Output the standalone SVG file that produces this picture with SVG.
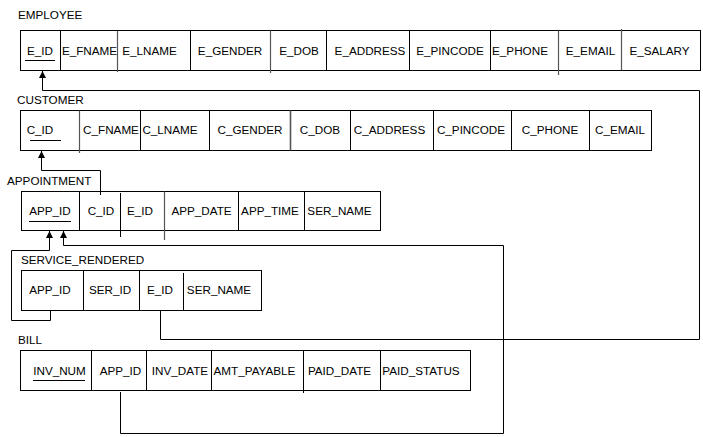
<svg xmlns="http://www.w3.org/2000/svg" width="703" height="437" viewBox="0 0 703 437">
<defs>
<style>
text{font-family:"Liberation Sans",Arial,sans-serif;font-size:11.7px;fill:#000}
.c{text-anchor:middle}
.t{fill:#fff;stroke:#000;stroke-width:1}
.d{stroke:#000;stroke-width:1;fill:none}
.g{stroke:#555;stroke-width:1.2;fill:none}
.u{stroke:#000;stroke-width:1}
.w{stroke:#000;stroke-width:1;fill:none}
</style>
<marker id="ah" viewBox="0 0 8 8" refX="7" refY="4" markerWidth="8" markerHeight="8" markerUnits="userSpaceOnUse" orient="auto">
<path d="M0,0.5 L7,4 L0,7.5 Z" fill="#000"/>
</marker>
</defs>
<rect width="703" height="437" fill="#fff"/>

<g id="employee">
<text x="18" y="19">EMPLOYEE</text>
<rect class="t" x="20.5" y="30.5" width="680" height="40"/>
<line class="d" x1="60.5" y1="30.5" x2="60.5" y2="70.5"/>
<line class="g" x1="117.5" y1="31" x2="117.5" y2="72"/>
<line class="d" x1="190.5" y1="30.5" x2="190.5" y2="70.5"/>
<line class="g" x1="270.5" y1="30.5" x2="270.5" y2="73"/>
<line class="d" x1="326.5" y1="30.5" x2="326.5" y2="70.5"/>
<line class="d" x1="409.5" y1="30.5" x2="409.5" y2="70.5"/>
<line class="d" x1="490.5" y1="30.5" x2="490.5" y2="70.5"/>
<line class="g" x1="558.5" y1="30.5" x2="558.5" y2="75"/>
<line class="g" x1="621.5" y1="29" x2="621.5" y2="70.5"/>
<line class="u" x1="25" y1="60.5" x2="55" y2="60.5"/>
<text class="c" x="40" y="54.5">E_ID</text>
<text class="c" x="89.5" y="54.5">E_FNAME</text>
<text class="c" x="149.5" y="54.5">E_LNAME</text>
<text class="c" x="230" y="54.5">E_GENDER</text>
<text class="c" x="299" y="54.5">E_DOB</text>
<text class="c" x="370" y="54.5">E_ADDRESS</text>
<text class="c" x="450" y="54.5">E_PINCODE</text>
<text class="c" x="520" y="54.5">E_PHONE</text>
<text class="c" x="590.5" y="54.5">E_EMAIL</text>
<text class="c" x="659.5" y="54.5">E_SALARY</text>
</g>

<g id="customer">
<text x="17" y="104">CUSTOMER</text>
<rect class="t" x="20.5" y="110.5" width="631" height="40"/>
<line class="g" x1="79.5" y1="110.5" x2="79.5" y2="153"/>
<line class="d" x1="140.5" y1="110.5" x2="140.5" y2="150.5"/>
<line class="d" x1="209.5" y1="110.5" x2="209.5" y2="150.5"/>
<line class="g" x1="290.5" y1="110.5" x2="290.5" y2="150.5" style="stroke-width:1.6"/>
<line class="d" x1="350.5" y1="110.5" x2="350.5" y2="150.5"/>
<line class="d" x1="433.5" y1="110.5" x2="433.5" y2="150.5"/>
<line class="d" x1="511.5" y1="110.5" x2="511.5" y2="150.5"/>
<line class="d" x1="589.5" y1="110.5" x2="589.5" y2="150.5"/>
<line class="u" x1="30" y1="140.5" x2="61" y2="140.5"/>
<text class="c" x="40" y="134">C_ID</text>
<text class="c" x="111" y="134">C_FNAME</text>
<text class="c" x="170" y="134">C_LNAME</text>
<text class="c" x="250" y="134">C_GENDER</text>
<text class="c" x="320" y="134">C_DOB</text>
<text class="c" x="389.5" y="134">C_ADDRESS</text>
<text class="c" x="471" y="134">C_PINCODE</text>
<text class="c" x="550" y="134">C_PHONE</text>
<text class="c" x="620" y="134">C_EMAIL</text>
</g>

<g id="appointment">
<text x="7" y="185">APPOINTMENT</text>
<rect class="t" x="21.5" y="191.5" width="359" height="39"/>
<line class="d" x1="79.5" y1="191.5" x2="79.5" y2="230.5"/>
<line class="d" x1="120.5" y1="193" x2="120.5" y2="237"/>
<line class="g" x1="164.5" y1="191.5" x2="164.5" y2="240"/>
<line class="d" x1="238.5" y1="191.5" x2="238.5" y2="230.5"/>
<line class="d" x1="304.5" y1="191.5" x2="304.5" y2="230.5"/>
<line class="u" x1="29" y1="221.5" x2="71" y2="221.5"/>
<text class="c" x="50" y="215">APP_ID</text>
<text class="c" x="101" y="215">C_ID</text>
<text class="c" x="140" y="215">E_ID</text>
<text class="c" x="201.5" y="215">APP_DATE</text>
<text class="c" x="270" y="215">APP_TIME</text>
<text class="c" x="339.5" y="215">SER_NAME</text>
</g>

<g id="service_rendered">
<text x="21" y="264">SERVICE_RENDERED</text>
<rect class="t" x="21.5" y="270.5" width="240" height="40"/>
<line class="d" x1="83.5" y1="270.5" x2="83.5" y2="310.5"/>
<line class="d" x1="139.5" y1="270.5" x2="139.5" y2="310.5"/>
<line class="d" x1="183.5" y1="273" x2="183.5" y2="310.5"/>
<text class="c" x="50" y="294">APP_ID</text>
<text class="c" x="110" y="294">SER_ID</text>
<text class="c" x="160" y="294">E_ID</text>
<text class="c" x="219" y="294">SER_NAME</text>
</g>

<g id="bill">
<text x="18" y="344">BILL</text>
<rect class="t" x="20.5" y="350.5" width="450" height="40"/>
<line class="d" x1="91.5" y1="350.5" x2="91.5" y2="390.5"/>
<line class="d" x1="146.5" y1="350.5" x2="146.5" y2="390.5"/>
<line class="d" x1="211.5" y1="350.5" x2="211.5" y2="390.5"/>
<line class="d" x1="303.5" y1="351" x2="303.5" y2="393"/>
<line class="d" x1="380.5" y1="350.5" x2="380.5" y2="390.5"/>
<line class="u" x1="33" y1="380.5" x2="85" y2="380.5"/>
<text class="c" x="59.5" y="374.5">INV_NUM</text>
<text class="c" x="120.5" y="374.5">APP_ID</text>
<text class="c" x="180" y="374.5">INV_DATE</text>
<text class="c" x="254.5" y="374.5">AMT_PAYABLE</text>
<text class="c" x="339.5" y="374.5">PAID_DATE</text>
<text class="c" x="421" y="374.5">PAID_STATUS</text>
</g>

<g id="connectors">
<path class="w" d="M160.5,310 V339.5 H699.5 V90.5 H42.5 V71" marker-end="url(#ah)"/>
<path class="w" d="M100.5,195 V170.5 H41.5 V151" marker-end="url(#ah)"/>
<path class="w" d="M50.5,310 V320.5 H11.5 V250.5 H49.5 V231" marker-end="url(#ah)"/>
<path class="w" d="M120.5,392 V433.5 H503.5 V245.5 H63.5 V231" marker-end="url(#ah)"/>
</g>
</svg>
